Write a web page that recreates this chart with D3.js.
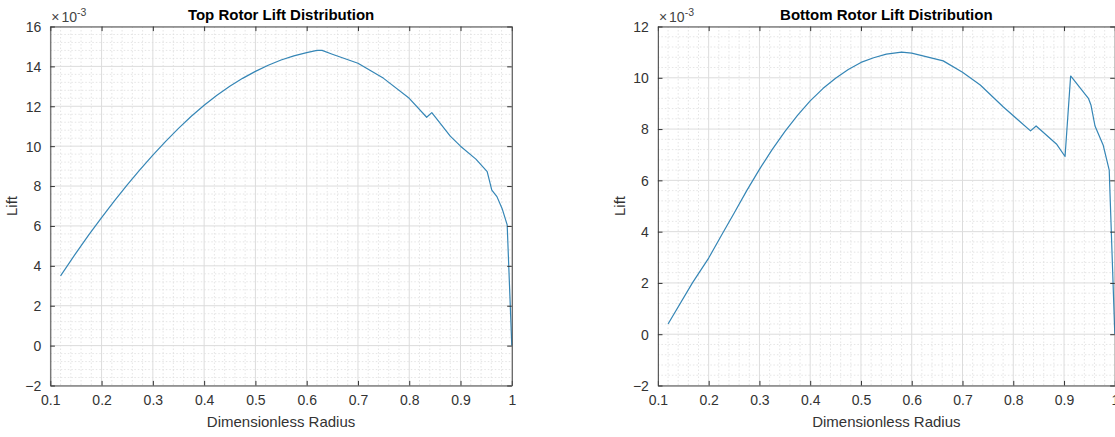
<!DOCTYPE html>
<html>
<head>
<meta charset="utf-8">
<script src="https://cdn.jsdelivr.net/npm/d3@7"></script>
<style>
  html, body { margin: 0; padding: 0; background: #ffffff; }
  svg { display: block; font-family: "Liberation Sans", Arial, Helvetica, sans-serif; }
</style>
</head>
<body>
<svg id="chart" width="1115" height="437"></svg>
<script>
// ---- data (lift values in units of 1e-3) ----
const topX = [0.12,0.15,0.175,0.2,0.225,0.25,0.275,0.3,0.325,0.35,0.375,0.4,0.425,0.45,0.475,0.5,0.525,0.55,0.575,0.6,0.62,0.63,0.65,0.7,0.75,0.8,0.834,0.844,0.88,0.9,0.93,0.952,0.961,0.971,0.981,0.991,1.0];
const topY = [3.5,4.64,5.55,6.42,7.26,8.06,8.82,9.55,10.24,10.89,11.5,12.05,12.55,13.0,13.4,13.75,14.06,14.32,14.53,14.69,14.80,14.80,14.61,14.16,13.4,12.4,11.45,11.68,10.5,10.0,9.35,8.72,7.80,7.47,6.88,6.05,0];

const botX = [0.12,0.168,0.2,0.225,0.25,0.275,0.3,0.325,0.35,0.375,0.4,0.425,0.45,0.475,0.5,0.525,0.55,0.58,0.6,0.662,0.7,0.735,0.78,0.834,0.845,0.885,0.902,0.913,0.948,0.953,0.961,0.977,0.989,1.0];
const botY = [0.4,2.0,2.97,3.85,4.72,5.6,6.43,7.2,7.9,8.53,9.10,9.58,9.98,10.32,10.60,10.78,10.92,11.0,10.96,10.66,10.22,9.72,8.87,7.93,8.12,7.42,6.93,10.07,9.20,8.94,8.12,7.38,6.40,0];

const xTicks = [0.1,0.2,0.3,0.4,0.5,0.6,0.7,0.8,0.9,1];
const xTickLabels = ["0.1","0.2","0.3","0.4","0.5","0.6","0.7","0.8","0.9","1"];
const yTicksTop = [-2,0,2,4,6,8,10,12,14,16];
const yTicksBot = [-2,0,2,4,6,8,10,12];

const titles = ["Top Rotor Lift Distribution", "Bottom Rotor Lift Distribution"];
const xLabel = "Dimensionless Radius";
const yLabel = "Lift";
const expLabel = "-3";

const svg = d3.select("#chart");

function panel(opt) {
  const {x0, x1, y0, y1, xs, ys, yDomain, yTicks, title} = opt;
  const x = d3.scaleLinear().domain([0.1, 1]).range([x0, x1]);
  const y = d3.scaleLinear().domain(yDomain).range([y1, y0]);
  const g = svg.append("g");

  g.append("rect").attr("x", x0).attr("y", y0).attr("width", x1 - x0).attr("height", y1 - y0).attr("fill", "#ffffff");

  // minor grid
  const xMinor = d3.range(0.1, 1.0001, 0.02).filter(v => Math.abs(Math.round(v * 10) - v * 10) > 1e-6);
  const yMinor = d3.range(yDomain[0], yDomain[1] + 1e-6, 0.4).filter(v => Math.abs(Math.round(v / 2) * 2 - v) > 1e-6);
  g.append("g").selectAll("line").data(xMinor).join("line")
    .attr("x1", d => x(d)).attr("x2", d => x(d)).attr("y1", y0).attr("y2", y1)
    .attr("stroke", "#dedede").attr("stroke-width", 0.8).attr("stroke-dasharray", "1.5,2");
  g.append("g").selectAll("line").data(yMinor).join("line")
    .attr("y1", d => y(d)).attr("y2", d => y(d)).attr("x1", x0).attr("x2", x1)
    .attr("stroke", "#dedede").attr("stroke-width", 0.8).attr("stroke-dasharray", "1.5,2");

  // major grid
  g.append("g").selectAll("line").data(xTicks).join("line")
    .attr("x1", d => x(d)).attr("x2", d => x(d)).attr("y1", y0).attr("y2", y1)
    .attr("stroke", "#dcdcdc").attr("stroke-width", 1);
  g.append("g").selectAll("line").data(yTicks).join("line")
    .attr("y1", d => y(d)).attr("y2", d => y(d)).attr("x1", x0).attr("x2", x1)
    .attr("stroke", "#dcdcdc").attr("stroke-width", 1);

  // data line
  const pts = xs.map((v, i) => [v, ys[i]]);
  g.append("path").datum(pts)
    .attr("fill", "none").attr("stroke", "#3586b6").attr("stroke-width", 1.2)
    .attr("stroke-linejoin", "round")
    .attr("d", d3.line().x(d => x(d[0])).y(d => y(d[1])));

  // axes (ticks inward, box)
  const tl = 4.6;
  const fmtX = (d, i) => xTickLabels[i];
  const bottom = g.append("g").attr("transform", `translate(0,${y1})`)
    .call(d3.axisBottom(x).tickValues(xTicks).tickFormat(fmtX).tickSizeInner(-tl).tickSizeOuter(0).tickPadding(10));
  const top = g.append("g").attr("transform", `translate(0,${y0})`)
    .call(d3.axisTop(x).tickValues(xTicks).tickFormat("").tickSizeInner(-tl).tickSizeOuter(0));
  const left = g.append("g").attr("transform", `translate(${x0},0)`)
    .call(d3.axisLeft(y).tickValues(yTicks).tickFormat(d3.format("d")).tickSizeInner(-tl).tickSizeOuter(0).tickPadding(9));
  const right = g.append("g").attr("transform", `translate(${x1},0)`)
    .call(d3.axisRight(y).tickValues(yTicks).tickFormat("").tickSizeInner(-tl).tickSizeOuter(0));
  [bottom, top, left, right].forEach(a => {
    a.selectAll(".domain").attr("stroke", "#4a4a4a").attr("stroke-width", 1);
    a.selectAll(".tick line").attr("stroke", "#333");
    a.selectAll("text").attr("fill", "#333").attr("font-size", 14)
      .attr("font-family", "'Liberation Sans', Arial, sans-serif");
  });
  left.selectAll("text").attr("dy", "0.35em");

  // exponent
  const ex = g.append("text").attr("x", x0 + 1).attr("y", y0 - 5)
    .attr("fill", "#444").attr("font-size", 14);
  ex.append("tspan").text("\u00d7");
  ex.append("tspan").attr("dx", 2).text("10");
  ex.append("tspan").attr("font-size", 10.5).attr("dy", -6).text(expLabel);

  // title
  g.append("text").attr("x", (x0 + x1) / 2).attr("y", 20)
    .attr("text-anchor", "middle").attr("font-weight", "bold").attr("font-size", 15)
    .attr("fill", "#000").text(title);

  // x label
  g.append("text").attr("x", (x0 + x1) / 2).attr("y", 427)
    .attr("text-anchor", "middle").attr("font-size", 15).attr("fill", "#333").text(xLabel);

  // y label
  g.append("text").attr("transform", `translate(${x0 - 33},${(y0 + y1) / 2}) rotate(-90)`)
    .attr("text-anchor", "middle").attr("font-size", 15).attr("fill", "#333").text(yLabel);
}

panel({x0: 50.3, x1: 511.8, y0: 26.5, y1: 385.5, xs: topX, ys: topY, yDomain: [-2, 16], yTicks: yTicksTop, title: titles[0]});
panel({x0: 657.9, x1: 1114.8, y0: 26.5, y1: 385.5, xs: botX, ys: botY, yDomain: [-2, 12], yTicks: yTicksBot, title: titles[1]});
</script>
</body>
</html>
